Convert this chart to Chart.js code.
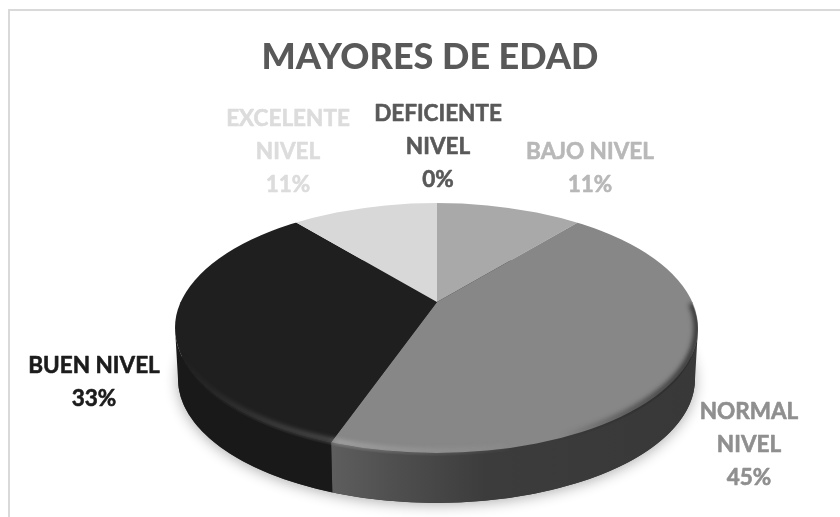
<!DOCTYPE html>
<html><head><meta charset="utf-8">
<style>html,body{margin:0;padding:0;background:#fff}#w{position:relative;width:840px;height:517px}canvas{display:block}</style>
<script src="https://cdn.jsdelivr.net/npm/chart.js@4"></script>
</head><body><div id="w"><canvas id="c" width="840" height="517"></canvas></div>
<script>
const chartTitle = "MAYORES DE EDAD";
const categories = ["DEFICIENTE NIVEL", "BAJO NIVEL", "NORMAL NIVEL", "BUEN NIVEL", "EXCELENTE NIVEL"];
const values = [0, 11, 45, 33, 11];
const sliceColors = ["#5a5a5a", "#a9a9a9", "#878787", "#1f1f1f", "#d8d8d8"];
const labelColors = ["#595959", "#b8b8b8", "#8f8f8f", "#1c1c1c", "#dcdcdc"];
const labelBreaks = [["DEFICIENTE","NIVEL"],["BAJO NIVEL"],["NORMAL","NIVEL"],["BUEN NIVEL"],["EXCELENTE","NIVEL"]];
const labelAnchors = [[438,114],[590,152],[749,412],[94,366],[288,119]];

// pie drawing geometry
const G = {vx:437, vy:302, cx:436.5, cy:328, rx:261.5, ry:125, bcy:379, brx:258.5, bry:124, tiltBack:0.467, tiltFront:0.525, reach:345};
const LINE = 33;

function rimAngle(a){ // chart angle -> parameter on the rim ellipse, ray from the vertex
  const tilt=Math.sin(a)<0?G.tiltBack:G.tiltFront;
  const dx=Math.cos(a), dy=Math.sin(a)*tilt;
  const ox=(G.vx-G.cx)/G.rx, oy=(G.vy-G.cy)/G.ry, ux=dx/G.rx, uy=dy/G.ry;
  const A=ux*ux+uy*uy, B=2*(ox*ux+oy*uy), C=ox*ox+oy*oy-1;
  const t=(-B+Math.sqrt(B*B-4*A*C))/(2*A);
  return Math.atan2(oy+uy*t, ox+ux*t);
}
function wallFill(ctx,i,x1,x2){
  if(i===2){ // the large slice darkens toward the right
    const g=ctx.createLinearGradient(x1,0,x2,0);
    g.addColorStop(0,"#5e5e5e");g.addColorStop(0.16,"#505050");g.addColorStop(0.42,"#3c3c3c");g.addColorStop(1,"#383838");
    return g;
  }
  return i===3 ? "#191919" : "#444";
}
function faceClip(ctx,top){
  ctx.beginPath();ctx.ellipse(G.cx,G.cy,G.rx,G.ry,0,0,Math.PI*2);ctx.clip();
  ctx.beginPath();
  if(top) ctx.rect(0,0,840,G.vy+1); else ctx.rect(0,G.vy,840,517-G.vy);
  ctx.clip();
}
function faceTransform(ctx,a,tilt){
  const k=G.reach/a.outerRadius;
  ctx.translate(G.vx,G.vy);ctx.scale(k,k*tilt);ctx.translate(-a.x,-a.y);
}
const pie3d = {
  id:"pie3d",
  beforeDatasetsDraw(chart){
    const ctx=chart.ctx, arcs=chart.getDatasetMeta(0).data;
    // soft ground shadow
    ctx.save();
    ctx.shadowColor="rgba(0,0,0,0.32)";ctx.shadowBlur=14;ctx.shadowOffsetY=2;
    ctx.fillStyle="#333";
    ctx.beginPath();ctx.ellipse(G.cx,G.bcy,G.brx,G.bry,0,0,Math.PI*2);ctx.fill();
    ctx.restore();
    // side wall of every slice that faces the viewer
    arcs.forEach((arc,i)=>{
      if(values[i]===0) return;
      let t1=rimAngle(arc.startAngle), t2=rimAngle(arc.endAngle);
      if(t1<-Math.PI/2) t1+=2*Math.PI;
      if(t2<-Math.PI/2) t2+=2*Math.PI;
      if(t2<t1) t2+=2*Math.PI;
      const s=Math.max(t1,0), e=Math.min(t2,Math.PI);
      if(e<=s) return;
      const x1=G.cx+G.rx*Math.cos(e), x2=G.cx+G.rx*Math.cos(s);
      ctx.beginPath();
      ctx.ellipse(G.cx,G.cy,G.rx,G.ry,0,s,e);
      ctx.ellipse(G.cx,G.bcy,G.brx,G.bry,0,e,s,true);
      ctx.closePath();
      ctx.fillStyle=wallFill(ctx,i,x1,x2);
      ctx.fill();
    });
    // top face, back half: the library's arcs, tilted and clipped to the rim
    ctx.save();
    faceClip(ctx,true);
    faceTransform(ctx,arcs[0],G.tiltBack);
  },
  afterDatasetsDraw(chart){
    const ctx=chart.ctx, arcs=chart.getDatasetMeta(0).data;
    ctx.restore();
    // top face, front half
    ctx.save();
    faceClip(ctx,false);
    faceTransform(ctx,arcs[0],G.tiltFront);
    arcs.forEach(a=>a.draw(ctx));
    ctx.restore();
    // bevel on the rim
    const bx=G.cx+G.rx*Math.cos(rimAngle(arcs[2].endAngle));
    ctx.save();
    ctx.beginPath();ctx.ellipse(G.cx,G.cy+2,G.rx,G.ry+1,0,0,Math.PI*2);ctx.clip();
    ctx.filter="blur(2.5px)";
    // dark edge at right of the large slice, fading out toward the front
    let d=ctx.createLinearGradient(560,0,690,0);
    d.addColorStop(0,"rgba(40,40,40,0)");d.addColorStop(0.5,"rgba(40,40,40,0.5)");d.addColorStop(1,"rgba(40,40,40,0.9)");
    ctx.beginPath();ctx.ellipse(G.cx,G.cy,G.rx-1,G.ry-1,0,-0.2,1.25);
    ctx.strokeStyle=d;ctx.lineWidth=6;ctx.stroke();
    // light band at the front
    let g=ctx.createLinearGradient(bx-150,0,bx+230,0);
    g.addColorStop(0,"rgba(130,130,130,0)");g.addColorStop(0.25,"rgba(130,130,130,0.55)");g.addColorStop(0.39,"rgba(120,120,120,0.8)");g.addColorStop(0.41,"rgba(185,185,185,0.9)");g.addColorStop(0.7,"rgba(170,170,170,0.45)");g.addColorStop(1,"rgba(150,150,150,0)");
    ctx.beginPath();ctx.ellipse(G.cx,G.cy,G.rx-1,G.ry-2,0,1.3,3.0);
    ctx.strokeStyle=g;ctx.lineWidth=3;ctx.stroke();
    ctx.restore();
    // labels
    ctx.save();
    ctx.textAlign="center";ctx.textBaseline="middle";ctx.font="bold 22.5px Lato";ctx.lineWidth=0.6;ctx.lineJoin="round";
    categories.forEach((c,i)=>{
      const lines=[...labelBreaks[i], values[i]+"%"];
      ctx.fillStyle=labelColors[i];ctx.strokeStyle=labelColors[i];
      lines.forEach((t,j)=>{
        ctx.fillText(t,labelAnchors[i][0],labelAnchors[i][1]+j*LINE);
        ctx.strokeText(t,labelAnchors[i][0],labelAnchors[i][1]+j*LINE);
      });
    });
    ctx.restore();
    // frame
    ctx.save();ctx.strokeStyle="#d9d9d9";ctx.lineWidth=2;
    ctx.beginPath();ctx.moveTo(9,517);ctx.lineTo(9,10);ctx.lineTo(840,10);ctx.stroke();ctx.restore();
  }
};
new Chart(document.getElementById("c"),{
  type:"pie",
  data:{labels:categories,datasets:[{data:values,backgroundColor:sliceColors,borderWidth:0}]},
  plugins:[pie3d],
  options:{
    responsive:false,animation:false,
    layout:{padding:{left:20}},
    plugins:{
      legend:{display:false},tooltip:{enabled:false},
      title:{display:true,text:chartTitle,color:"#595959",font:{family:"Lato",size:36,weight:"900"},padding:{top:36,bottom:10}}
    }
  }
});
</script></body></html>
